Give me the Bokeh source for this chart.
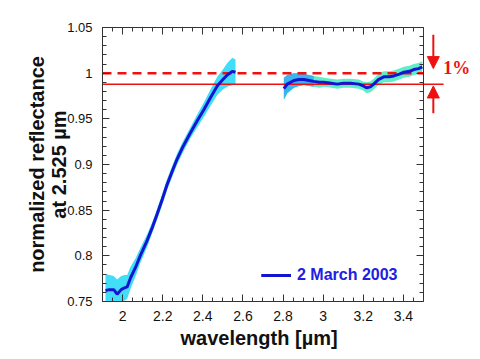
from bokeh.plotting import figure
from bokeh.models import (Range1d, LinearAxis, FixedTicker, CustomJSTickFormatter, Arrow,
                          NormalHead, Label, Legend, LegendItem, ColumnDataSource, Title)
from bokeh.embed import file_html
from bokeh.resources import INLINE

# ---- data ----
seg1_wl = [1.915, 1.935, 1.956, 1.973, 1.993, 2.010, 2.023, 2.040, 2.064, 2.090, 2.123, 2.150,
           2.173, 2.198, 2.222, 2.250, 2.272, 2.300, 2.339, 2.370, 2.405, 2.440, 2.472, 2.500,
           2.522, 2.547, 2.563]
seg1_refl = [0.762, 0.763, 0.763, 0.758, 0.763, 0.765, 0.766, 0.776, 0.787, 0.801, 0.817, 0.832,
             0.846, 0.862, 0.878, 0.894, 0.906, 0.919, 0.935, 0.947, 0.960, 0.974, 0.986, 0.993,
             0.998, 1.002, 1.001]
seg1_err = [0.018, 0.016, 0.015, 0.016, 0.015, 0.014, 0.013, 0.012, 0.010, 0.008, 0.007, 0.006,
            0.006, 0.006, 0.006, 0.006, 0.006, 0.006, 0.006, 0.007, 0.008, 0.009, 0.010, 0.011,
            0.013, 0.015, 0.014]

seg2_wl = [2.804, 2.821, 2.854, 2.880, 2.904, 2.930, 2.953, 2.980, 3.003, 3.040, 3.070, 3.100,
           3.136, 3.178, 3.200, 3.216, 3.235, 3.252, 3.275, 3.302, 3.330, 3.352, 3.380, 3.402,
           3.430, 3.452, 3.475, 3.494]
seg2_refl = [0.983, 0.988, 0.992, 0.993, 0.993, 0.992, 0.991, 0.990, 0.990, 0.989, 0.988, 0.989,
             0.989, 0.988, 0.986, 0.984, 0.985, 0.988, 0.993, 0.996, 0.996, 0.997, 0.999, 1.001,
             1.002, 1.004, 1.005, 1.007]
seg2_err = [0.012, 0.010, 0.008, 0.007, 0.006, 0.006, 0.006, 0.006, 0.005, 0.005, 0.005, 0.005,
            0.005, 0.005, 0.005, 0.006, 0.006, 0.006, 0.006, 0.006, 0.006, 0.006, 0.006, 0.006,
            0.006, 0.006, 0.006, 0.006]

x_ticks = [2.0, 2.2, 2.4, 2.6, 2.8, 3.0, 3.2, 3.4]
x_minor = [1.9 + 0.05 * i for i in range(33)]
y_ticks = [0.75, 0.80, 0.85, 0.90, 0.95, 1.00, 1.05]
y_minor = [0.75 + 0.01 * i for i in range(31)]

x_box = (1.9, 3.5)        # plotted wavelength interval (the framed box)
y_box = (0.75, 1.05)
ref_level = 1.00          # dashed line
lower_level = 0.988       # solid line, 1 % below
x_label = "wavelength [µm]"
y_label = "normalized reflectance\nat 2.525 µm"
legend_text = "2 March 2003"
percent_text = "1%"

# ---- figure ----
# The frame extends to the right of the box so the "1 %" marker can be drawn there;
# the box's top and right sides are bounded axes.
px_per_unit = 200.6
right_pad_px = 52
box_w = (x_box[1] - x_box[0]) * px_per_unit
x_end = x_box[1] + right_pad_px / px_per_unit

p = figure(frame_width=int(round(box_w + right_pad_px)), frame_height=274,
           output_backend="svg", toolbar_location=None,
           x_range=Range1d(x_box[0], x_end), y_range=Range1d(*y_box),
           min_border_left=102, min_border_right=5, min_border_top=27, min_border_bottom=58)
p.grid.visible = False
p.outline_line_color = None
p.background_fill_color = "white"
p.border_fill_color = "white"

fmt = CustomJSTickFormatter(code="return (Math.round(tick*100)/100).toString();")
blank_fmt = CustomJSTickFormatter(code="return '';")

def style_axis(ax, ticks, minor, labels=True):
    ax.ticker = FixedTicker(ticks=ticks, minor_ticks=minor)
    ax.major_tick_in = 7
    ax.major_tick_out = 0
    ax.minor_tick_in = 4
    ax.minor_tick_out = 0
    ax.axis_line_color = "#333333"
    ax.major_tick_line_color = "#333333"
    ax.minor_tick_line_color = "#333333"
    if labels:
        ax.formatter = fmt
    else:
        ax.formatter = blank_fmt
        ax.major_label_standoff = 0

xb = p.xaxis[0]
style_axis(xb, x_ticks, x_minor)
xb.bounds = x_box
xb.major_label_text_font = "Liberation Sans"
xb.major_label_text_font_size = "14px"
xb.major_label_text_color = "#111111"
xb.major_label_standoff = 9

# x-axis title, aligned under the box (the frame itself is wider than the box)
p.add_layout(Title(text=x_label, align="left", offset=78, standoff=2,
                   text_font="Liberation Sans", text_font_style="bold",
                   text_font_size="20px", text_color="#111111"), "below")

yl = p.yaxis[0]
style_axis(yl, y_ticks, y_minor)
yl.major_label_text_font = "Liberation Sans"
yl.major_label_text_font_size = "13px"
yl.major_label_text_color = "#111111"
yl.major_label_standoff = 10
yl.axis_label = y_label
yl.axis_label_text_font = "Liberation Sans"
yl.axis_label_text_font_style = "bold"
yl.axis_label_text_font_size = "20px"
yl.axis_label_text_color = "#111111"
yl.axis_label_text_line_height = 1.0
yl.axis_label_standoff = -6

top = LinearAxis(bounds=x_box)
style_axis(top, x_ticks, x_minor, labels=False)
p.add_layout(top, "above")
right = LinearAxis(fixed_location=x_box[1])
style_axis(right, y_ticks, y_minor, labels=False)
p.add_layout(right, "right")

# ---- error bands ----
s1 = ColumnDataSource(dict(x=seg1_wl, y=seg1_refl,
                           lo=[r - e for r, e in zip(seg1_refl, seg1_err)],
                           hi=[r + e for r, e in zip(seg1_refl, seg1_err)]))
s2 = ColumnDataSource(dict(x=seg2_wl, y=seg2_refl,
                           lo=[r - e for r, e in zip(seg2_refl, seg2_err)],
                           hi=[r + e for r, e in zip(seg2_refl, seg2_err)]))
s2a = ColumnDataSource(dict(x=seg2_wl[:7],
                            lo=[r - e for r, e in zip(seg2_refl[:7], seg2_err[:7])],
                            hi=[r + e for r, e in zip(seg2_refl[:7], seg2_err[:7])]))

p.varea(x="x", y1="lo", y2="hi", source=s1, fill_color="#42def8")
p.varea(x="x", y1="lo", y2="hi", source=s2, fill_color="#5eefc6")
p.varea(x="x", y1="lo", y2="hi", source=s2a, fill_color="#3ab4f0")

# ---- reference lines ----
p.line(x=list(x_box), y=[ref_level, ref_level], line_color="#ee1111", line_width=2.5,
       line_dash="9 6")
p.line(x=[x_box[0], 3.6], y=[lower_level, lower_level], line_color="#ee1111", line_width=1.5)

# ---- spectrum ----
r1 = p.line(x="x", y="y", source=s1, line_color="#1414d2", line_width=3)
r2 = p.line(x="x", y="y", source=s2, line_color="#1414d2", line_width=3)

legend = Legend(items=[LegendItem(label=legend_text, renderers=[r1, r2])],
                location=(159, 16), padding=0, margin=0, glyph_width=30,
                glyph_height=20, label_standoff=6, background_fill_alpha=0,
                border_line_alpha=0,
                label_text_font="Liberation Sans", label_text_font_style="bold",
                label_text_font_size="16px", label_text_color="#2020e0")
p.add_layout(legend, "center")

# ---- 1 % marker ----
p.add_layout(Arrow(x_start=3.549, y_start=1.042, x_end=3.549, y_end=1.005,
                   end=NormalHead(size=12, fill_color="#ee1111", line_color="#ee1111"),
                   line_color="#ee1111", line_width=2))
p.add_layout(Arrow(x_start=3.549, y_start=0.956, x_end=3.549, y_end=0.986,
                   end=NormalHead(size=12, fill_color="#ee1111", line_color="#ee1111"),
                   line_color="#ee1111", line_width=2))
p.add_layout(Label(x=3.598, y=1.0055, text=percent_text, text_color="#ee1111",
                   text_font="Liberation Serif", text_font_style="bold",
                   text_font_size="18px", text_baseline="alphabetic"))

open("out.html", "w").write(file_html(p, INLINE))
